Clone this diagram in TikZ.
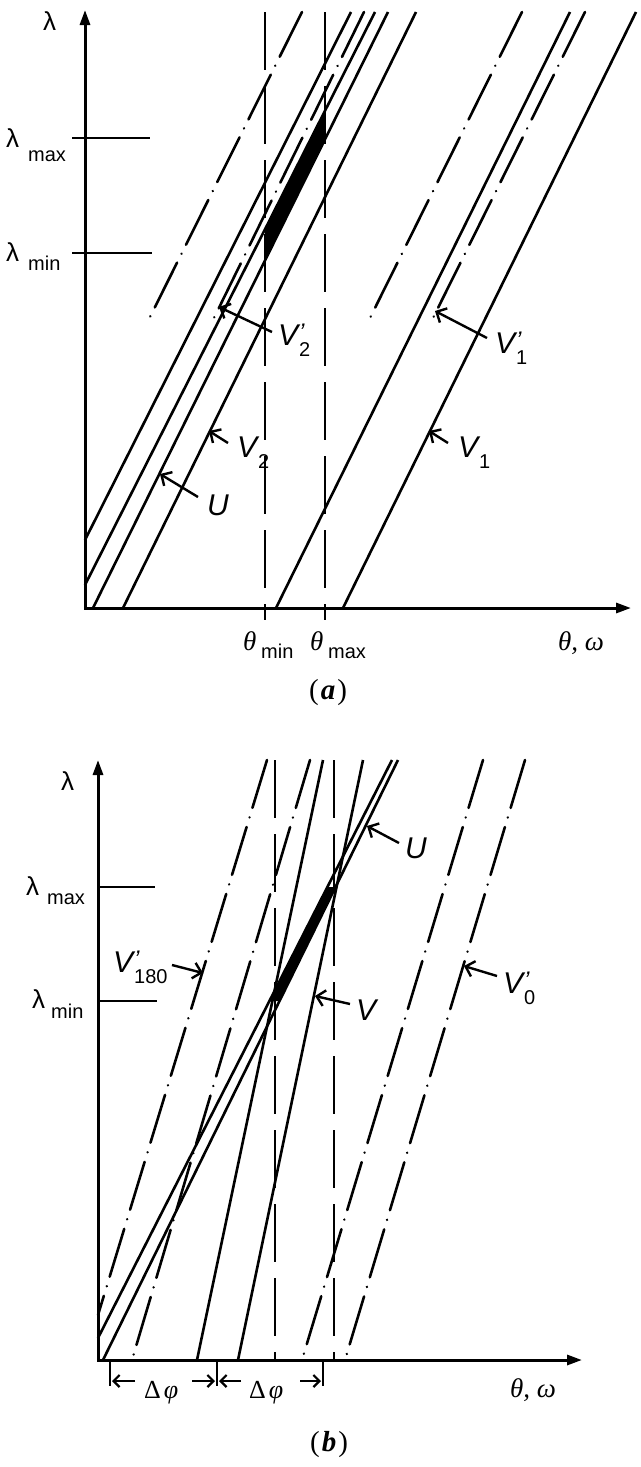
\documentclass[tikz,border=0pt]{standalone}
\usepackage{fontspec}
\setmainfont{Liberation Sans}
\newfontfamily\tms{Liberation Serif}
\usetikzlibrary{arrows.meta}
\newcommand\Lab[3]{{\fontsize{30}{32}\selectfont\itshape #1}\kern1pt\rlap{\raisebox{5pt}{\fontsize{24}{24}\selectfont\itshape #2}}\raisebox{-11pt}{\fontsize{20}{20}\selectfont #3}}
\newcommand\lam{{\fontsize{26}{26}\selectfont λ}}
\newcommand\subtxt[1]{{\fontsize{20}{20}\selectfont #1}}
\newcommand\tht[1]{{\tms\fontsize{27}{27}\selectfont\itshape #1}}
\newcommand\figcap[1]{{\tms\fontsize{29}{29}\selectfont (\kern2pt\textbf{\itshape #1}\kern2pt)}}
\newcommand\dphi{{\tms\fontsize{26}{26}\selectfont Δ\kern3pt\itshape φ}}
\begin{document}
\begin{tikzpicture}[x=1pt,y=-1pt,
 ax/.style={line width=3pt,{Triangle[length=15pt,width=10pt]}-{Triangle[length=15pt,width=10pt]}},
 sl/.style={line width=2.6pt},
 dd/.style={line width=2.6pt,dash pattern=on 50pt off 10pt on 0.01pt off 10pt,line cap=round},
 vd/.style={line width=1.9pt,dash pattern=on 58pt off 16pt},
 tk/.style={line width=2.4pt},
 la/.style={line width=2.4pt,-{Straight Barb[length=8pt,width=16pt]}},
 da/.style={line width=2.2pt,-{Straight Barb[length=6pt,width=12pt]}},
 lbl/.style={inner sep=0pt,anchor=base west}]
\useasboundingbox (0,0) rectangle (640,1467);
% ================= (a) =================
\coordinate (aO) at (85,608);
\coordinate (aY) at (85,10);
\coordinate (aX) at (631,608);
\draw[ax] (aY) -- (aO) -- (aX);
\coordinate (aMx1) at (72,138); \coordinate (aMx2) at (150,138);
\coordinate (aMn1) at (72,253); \coordinate (aMn2) at (152,253);
\draw[tk] (aMx1) -- (aMx2);
\draw[tk] (aMn1) -- (aMn2);
\coordinate (aT1t) at (265,12); \coordinate (aT1b) at (265,620);
\coordinate (aT2t) at (325,12); \coordinate (aT2b) at (325,620);
\draw[vd] (aT1t) -- (aT1b);
\draw[vd] (aT2t) -- (aT2b);
% solid lines
\coordinate (a1b) at (85,540);  \coordinate (a1t) at (351,12);
\coordinate (a2b) at (85,585);  \coordinate (a2t) at (375,12);
\coordinate (aub) at (93,608);  \coordinate (aut) at (388,12);
\coordinate (av2b) at (123,608); \coordinate (av2t) at (416,12);
\coordinate (arb) at (276,608); \coordinate (art) at (570,12);
\coordinate (av1b) at (343,608); \coordinate (av1t) at (636,12);
\draw[sl] (a1b) -- (a1t);
\draw[sl] (a2b) -- (a2t);
\draw[sl] (aub) -- (aut);
\draw[sl] (av2b) -- (av2t);
\draw[sl] (arb) -- (art);
\draw[sl] (av1b) -- (av1t);
% dash-dot lines
\coordinate (ad1t) at (302,12);  \coordinate (ad1b) at (147,323);
\coordinate (av2pt) at (364,12); \coordinate (av2pb) at (212,322);
\coordinate (ad3t) at (522,12);  \coordinate (ad3b) at (368,322);
\coordinate (av1pt) at (585,12); \coordinate (av1pb) at (433,318);
\draw[dd] (ad1t) -- (ad1b);
\draw[dd] (av2pt) -- (av2pb);
\draw[dd] (ad3t) -- (ad3b);
\draw[dd] (av1pt) -- (av1pb);
% black band
\fill (intersection of a2b--a2t and aT1t--aT1b) -- (intersection of aub--aut and aT1t--aT1b)
  -- (intersection of aub--aut and aT2t--aT2b) -- (intersection of a2b--a2t and aT2t--aT2b) -- cycle;
% labels
\node[lbl] (aLam) at (43,30) {\lam};
\node[lbl] (aLmax) at (6,147) {\lam};
\node[lbl] (aLmaxs) at (28,161) {\subtxt{max}};
\node[lbl] (aLmin) at (6,261) {\lam};
\node[lbl] (aLmins) at (28,270) {\subtxt{min}};
\node[lbl] (aTmin) at (243,650) {\tht{θ}};
\node[lbl] (aTmins) at (261,658) {\subtxt{min}};
\node[lbl] (aTmax) at (310,650) {\tht{θ}};
\node[lbl] (aTmaxs) at (328,658) {\subtxt{max}};
\node[lbl] (aTO) at (558,650) {\tht{θ, ω}};
\node[inner sep=0pt] (aCap) at (328,693) {\figcap{a}};
% arrow labels
\node[lbl] (lV2p) at (278,345) {\Lab{V}{'}{2}};
\coordinate (lV2ps) at (272,332); \coordinate (lV2pt) at (219,307);
\draw[la] (lV2ps) -- (lV2pt);
\node[lbl] (lV2) at (237,457) {\Lab{V}{}{2}};
\coordinate (lV2s) at (228,443); \coordinate (lV2t) at (209,431);
\draw[la] (lV2s) -- (lV2t);
\node[lbl] (lUa) at (207,515) {\Lab{U}{}{}};
\coordinate (lUas) at (198,497); \coordinate (lUat) at (160,474);
\draw[la] (lUas) -- (lUat);
\node[lbl] (lV1p) at (495,353) {\Lab{V}{'}{1}};
\coordinate (lV1ps) at (487,338); \coordinate (lV1pt) at (435,311);
\draw[la] (lV1ps) -- (lV1pt);
\node[lbl] (lV1) at (458,457) {\Lab{V}{}{1}};
\coordinate (lV1s) at (448,443); \coordinate (lV1t) at (429,431);
\draw[la] (lV1s) -- (lV1t);
% ================= (b) =================
\coordinate (bO) at (98,1360);
\coordinate (bY) at (98,760);
\coordinate (bX) at (582,1360);
\draw[ax] (bY) -- (bO) -- (bX);
\coordinate (bMx1) at (98,887); \coordinate (bMx2) at (155,887);
\coordinate (bMn1) at (98,1001); \coordinate (bMn2) at (157,1001);
\draw[tk] (bMx1) -- (bMx2);
\draw[tk] (bMn1) -- (bMn2);
\coordinate (bT1t) at (275,760); \coordinate (bT1b) at (275,1362);
\coordinate (bT2t) at (334,760); \coordinate (bT2b) at (334,1362);
\draw[vd] (bT1t) -- (bT1b);
\draw[vd] (bT2t) -- (bT2b);
% solid
\coordinate (bu1b) at (98,1338); \coordinate (bu1t) at (392,760);
\coordinate (bu2b) at (103,1360); \coordinate (bu2t) at (398,760);
\coordinate (bwb) at (197,1360); \coordinate (bwt) at (323,760);
\coordinate (bvb) at (238,1360); \coordinate (bvt) at (363,760);
\draw[sl] (bu1b) -- (bu1t);
\draw[sl] (bu2b) -- (bu2t);
\draw[sl] (bwb) -- (bwt);
\draw[sl] (bvb) -- (bvt);
% dash-dot
\coordinate (b180t) at (267,760); \coordinate (b180b) at (98,1315);
\coordinate (bd2t) at (310,760);  \coordinate (bd2b) at (132,1360);
\coordinate (br1t) at (483,760);  \coordinate (br1b) at (302,1360);
\coordinate (b0t) at (525,760);   \coordinate (b0b) at (345,1360);
\draw[dd] (b180t) -- (b180b);
\draw[dd] (bd2t) -- (bd2b);
\draw[dd] (br1t) -- (br1b);
\draw[dd] (b0t) -- (b0b);
% black wedge
\fill (intersection of bu1b--bu1t and bMn1--bMn2) -- (intersection of bu2b--bu2t and bMn1--bMn2)
  -- (intersection of bu2b--bu2t and bMx1--bMx2) -- (intersection of bu1b--bu1t and bMx1--bMx2) -- cycle;
% labels
\node[lbl] (bLam) at (61,790) {\lam};
\node[lbl] (bLmax) at (26,895) {\lam};
\node[lbl] (bLmaxs) at (47,904) {\subtxt{max}};
\node[lbl] (bLmin) at (32,1008) {\lam};
\node[lbl] (bLmins) at (51,1018) {\subtxt{min}};
\node[lbl] (bTO) at (510,1397) {\tht{θ, ω}};
\node[inner sep=0pt] (bCap) at (329,1445) {\figcap{b}};
% arrow labels
\node[lbl] (lUb) at (405,858) {\Lab{U}{}{}};
\coordinate (lUbs) at (399,843); \coordinate (lUbt) at (367,826);
\draw[la] (lUbs) -- (lUbt);
\node[lbl] (lV180) at (113,972) {\Lab{V}{'}{180}};
\coordinate (lV180s) at (172,965); \coordinate (lV180t) at (203,973);
\draw[la] (lV180s) -- (lV180t);
\node[lbl] (lVb) at (356,1020) {\Lab{V}{}{}};
\coordinate (lVbs) at (350,1004); \coordinate (lVbt) at (315,996);
\draw[la] (lVbs) -- (lVbt);
\node[lbl] (lV0) at (503,993) {\Lab{V}{'}{0}};
\coordinate (lV0s) at (497,976); \coordinate (lV0t) at (464,966);
\draw[la] (lV0s) -- (lV0t);
% delta phi
\coordinate (dt1a) at (110,1362); \coordinate (dt1b) at (110,1386);
\coordinate (dt2a) at (217,1362); \coordinate (dt2b) at (217,1386);
\coordinate (dt3a) at (323,1362); \coordinate (dt3b) at (323,1386);
\draw[tk] (dt1a) -- (dt1b);
\draw[tk] (dt2a) -- (dt2b);
\draw[tk] (dt3a) -- (dt3b);
\coordinate (da1s) at (135,1381); \coordinate (da1t) at (112,1381);
\coordinate (da2s) at (192,1381); \coordinate (da2t) at (215,1381);
\coordinate (da3s) at (241,1381); \coordinate (da3t) at (219,1381);
\coordinate (da4s) at (300,1381); \coordinate (da4t) at (321,1381);
\draw[da] (da1s) -- (da1t);
\draw[da] (da2s) -- (da2t);
\draw[da] (da3s) -- (da3t);
\draw[da] (da4s) -- (da4t);
\node[lbl] (dp1) at (144,1398) {\dphi};
\node[lbl] (dp2) at (249,1398) {\dphi};
\end{tikzpicture}
\end{document}
